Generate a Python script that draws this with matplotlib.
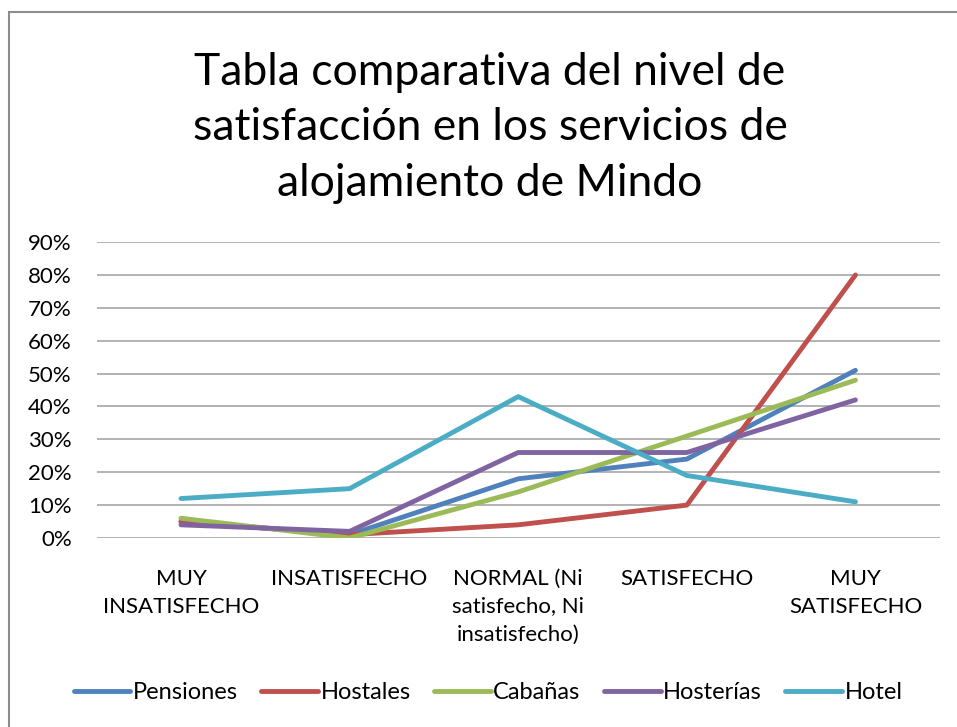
import numpy as np
import matplotlib
matplotlib.use("Agg")
import matplotlib.pyplot as plt
from matplotlib.patches import Rectangle
from matplotlib.ticker import PercentFormatter

categories = ["MUY\nINSATISFECHO", "INSATISFECHO", "NORMAL (Ni\nsatisfecho, Ni\ninsatisfecho)",
              "SATISFECHO", "MUY\nSATISFECHO"]
pensiones = [0.05, 0.01, 0.18, 0.24, 0.51]
hostales = [0.05, 0.01, 0.04, 0.10, 0.80]
cabanas = [0.06, 0.00, 0.14, 0.31, 0.48]
hosterias = [0.04, 0.02, 0.26, 0.26, 0.42]
hotel = [0.12, 0.15, 0.43, 0.19, 0.11]

series = [("Pensiones", pensiones, "#4F81BD"),
          ("Hostales", hostales, "#C0504D"),
          ("Cabañas", cabanas, "#9BBB59"),
          ("Hosterías", hosterias, "#8064A2"),
          ("Hotel", hotel, "#4BACC6")]

plt.rcParams['font.family'] = ['Lato', 'DejaVu Sans']

fig = plt.figure(figsize=(9.57, 7.27), dpi=100)
# chart border (runs off the right and bottom edges like the screenshot)
fig.patches.append(Rectangle((0.009, -0.02), 1.05, 1.003, transform=fig.transFigure,
                             fill=False, edgecolor="#8c8c8c", linewidth=1.5))
ax = fig.add_axes([0.101, 0.26, 0.881, 0.407])

x = np.arange(len(categories))
for name, vals, col in series:
    ax.plot(x, vals, color=col, linewidth=3.5, label=name, solid_capstyle="round")

ax.set_xlim(-0.5, len(categories) - 0.5)
ax.set_ylim(0, 0.9)
ax.set_yticks(np.arange(0, 0.91, 0.1))
ax.yaxis.set_major_formatter(PercentFormatter(1.0, decimals=0))
ax.grid(axis="y", color="#a6a6a6", linewidth=1.2)
ax.set_axisbelow(True)
for s in ax.spines.values():
    s.set_visible(False)
ax.tick_params(axis="y", length=0, labelsize=16, pad=18)
ax.tick_params(axis="x", length=0, labelsize=16, pad=22)
ax.set_xticks(x)
ax.set_xticklabels(categories, linespacing=1.5)

fig.text(0.512, 0.824, "Tabla comparativa del nivel de\nsatisfacción en los servicios de\nalojamiento de Mindo",
         ha="center", va="center", fontsize=32, linespacing=1.45)

fig.legend(loc="center", bbox_to_anchor=(0.51, 0.047), ncol=5, frameon=False,
           fontsize=17, handlelength=2.4, columnspacing=1.0, handletextpad=0.1)

fig.savefig("out.png", dpi=100)
